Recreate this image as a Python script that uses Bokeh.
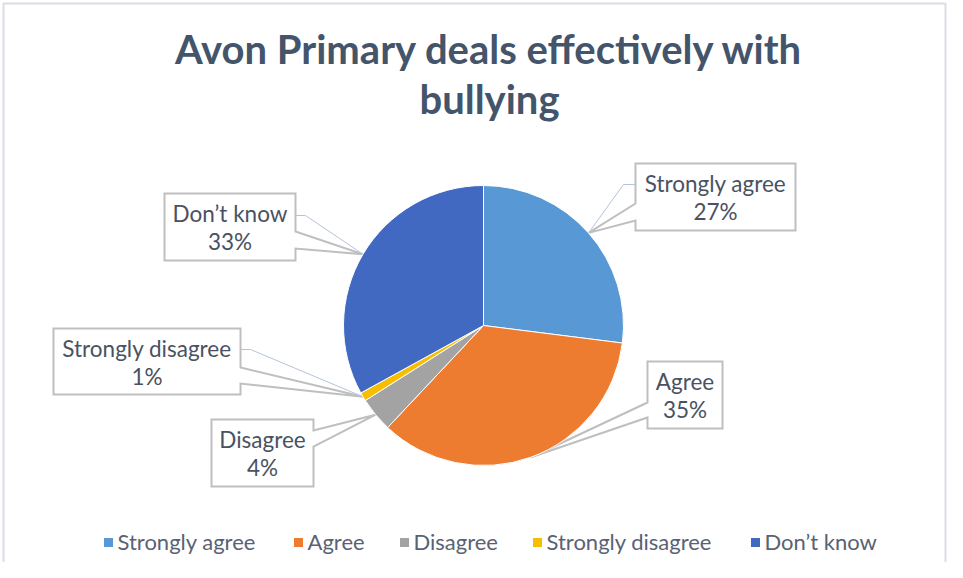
import math
from bokeh.plotting import figure
from bokeh.models import Range1d
from bokeh.core.properties import value
from bokeh.embed import file_html
from bokeh.resources import INLINE

# ---------------- data ----------------
title_lines = ["Avon Primary deals effectively with", "bullying"]
categories = ["Strongly agree", "Agree", "Disagree", "Strongly disagree", "Don\u2019t know"]
percents = [27, 35, 4, 1, 33]
colors = ["#5898D4", "#EE7C30", "#A3A3A3", "#F7BE00", "#4269C2"]

# ---------------- layout (pixel coords, y down) ----------------
FONT = "Lato"
W, H = 947, 562
CX, CY, R = 483, 325, 140

def Y(y):
    return H - y

# callout boxes: left, top, right, bottom, side of pointer, pointer base y1, y2
boxes = {
    "Strongly agree": (635, 163, 795, 230, "left", 203, 220),
    "Agree": (647, 361, 722, 428, "left", 402, 417),
    "Disagree": (211, 419, 313, 486, "right", 430, 446),
    "Strongly disagree": (53, 328, 240, 394, "right", 367, 383),
    "Don\u2019t know": (164, 193, 295, 260, "right", 231, 248),
}
# thin leader lines: (box attach x, attach y, elbow x)
leaders = {
    "Strongly agree": (635, 184, 623),
    "Strongly disagree": (240, 349, 250),
    "Don\u2019t know": (295, 215, 305),
}
legend_text_x = [117, 307, 413, 546, 764]
legend_mid = 541

p = figure(width=W, height=H, x_range=Range1d(0, W), y_range=Range1d(0, H),
           output_backend="svg", toolbar_location=None, min_border=0)
p.axis.visible = False
p.grid.visible = False
p.outline_line_color = None
p.background_fill_color = "white"
p.border_fill_color = "white"

# chart area border (left, top, right)
p.line([3, 3, W - 2, W - 2], [Y(H), Y(3), Y(3), Y(H)], line_color="#D9DDE4", line_width=2)

# ---------------- pie geometry ----------------
total = float(sum(percents))
starts, ends, mids = [], [], []
cum = 0.0
for v in percents:
    f0 = cum / total
    cum += v
    f1 = cum / total
    starts.append(math.pi / 2 - f0 * 2 * math.pi)
    ends.append(math.pi / 2 - f1 * 2 * math.pi)
    mids.append((f0 + f1) / 2)

tips = {}
for c, m in zip(categories, mids):
    a = m * 2 * math.pi
    tips[c] = (CX + R * math.sin(a), CY - R * math.cos(a))

# ---------------- callouts ----------------
xs, ys = [], []
for c in categories:
    L, T, Rr, B, side, b1, b2 = boxes[c]
    tx, ty = tips[c]
    if side == "left":
        pts = [(L, T), (Rr, T), (Rr, B), (L, B), (L, b2), (tx, ty), (L, b1)]
    else:
        pts = [(L, T), (Rr, T), (Rr, b1), (tx, ty), (Rr, b2), (Rr, B), (L, B)]
    xs.append([q[0] for q in pts])
    ys.append([Y(q[1]) for q in pts])
p.patches(xs, ys, fill_color="white", line_color="#BFBFBF", line_width=2, line_join="miter")

for c, (ax, ay, ex) in leaders.items():
    tx, ty = tips[c]
    p.line([ax, ex, tx], [Y(ay), Y(ay), Y(ty)], line_color="#B4C3DA", line_width=1)

for c, pct in zip(categories, percents):
    L, T, Rr, B = boxes[c][:4]
    mx = (L + Rr) / 2
    p.text([mx, mx], [Y(T + 20), Y(T + 48)], text=[c, f"{pct}%"],
           text_font=value(FONT), text_font_size="22.5px", text_color="#4A5262",
           text_align="center", text_baseline="middle")

# ---------------- pie ----------------
p.wedge(x=[CX] * len(percents), y=[Y(CY)] * len(percents), radius=R,
        start_angle=starts, end_angle=ends, direction="clock",
        fill_color=colors, line_color="white", line_width=1)

# ---------------- title ----------------
p.text([489, 489], [Y(48), Y(98)], text=title_lines,
       text_font=value(FONT), text_font_size="40px", text_font_style="bold",
       text_color="#44546A", text_align="center", text_baseline="middle")

# ---------------- legend ----------------
p.rect(x=[x - 9 for x in legend_text_x], y=[Y(legend_mid + 1)] * 5, width=9, height=9,
       fill_color=colors, line_color=None)
p.text(legend_text_x, [Y(legend_mid)] * 5, text=categories,
       text_font=value(FONT), text_font_size="22px", text_color="#596273",
       text_align="left", text_baseline="middle")

open("out.html", "w").write(file_html(p, INLINE))
